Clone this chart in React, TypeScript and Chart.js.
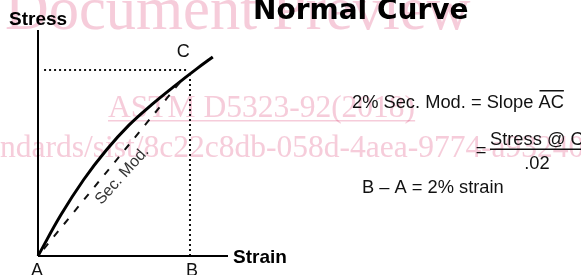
import React, { useEffect, useRef } from "react";
import { Chart, registerables } from "chart.js";
Chart.register(...registerables);

// ---- data ----
const strain = [0, 0.3, 0.6, 0.9, 1.2, 1.5, 1.8, 2.1, 2.3];
const stress = [0, 22, 41, 57, 70.5, 81.5, 91.5, 101, 107];
const secantStrain = [0, 1.9];
const secantStress = [0, 95];
const guideHStrain = [0.08, 1.97];
const guideHStress = [100, 100];
const guideVStrain = [2, 2];
const guideVStress = [0, 97];
const axisStrain = [0, 2.5];
const axisStress = [0, 121.5];
const pointC = [1.91, 100];
const pointB = [2, 0];
const pointA = [0, 0];

const titleText = "Normal Curve";
const yAxisLabel = "Stress";
const xAxisLabel = "Strain";
const formula1 = "2% Sec. Mod. = Slope ";
const formula1Bar = "AC";
const formulaNum = "Stress @ C";
const formulaDen = ".02";
const formula3 = "B \u2013 A = 2% strain";
const secLabel = "Sec. Mod.";
const wm1 = "Document Preview";
const wm2 = "ASTM D5323-92(2018)";
const wm3 = "ndards/sist/8c22c8db-058d-4aea-9774-a93240dc6a8b/astm-d5323-922018";

const pts = (xs: number[], ys: number[]) => xs.map((x, i) => ({ x, y: ys[i] }));

const SANS = '"Liberation Sans", Arial, sans-serif';
const BOLD = '"DejaVu Sans", sans-serif';
const SERIF = '"Liberation Serif", "Times New Roman", serif';

const textPlugin = {
  id: "texts",
  beforeDraw(chart: any) {
    const ctx = chart.ctx;
    ctx.save();
    ctx.fillStyle = "#fff";
    ctx.fillRect(0, 0, chart.width, chart.height);
    ctx.restore();
  },
  afterDraw(chart: any) {
    const ctx: CanvasRenderingContext2D = chart.ctx;
    const xs = chart.scales.x;
    const ys = chart.scales.y;
    ctx.save();
    ctx.fillStyle = "#000";
    ctx.strokeStyle = "#000";
    ctx.textBaseline = "alphabetic";

    // title
    ctx.textAlign = "left";
    ctx.font = `bold 28px ${BOLD}`;
    ctx.fillText(titleText, 253, 19);

    // axis labels
    ctx.font = `bold 19px ${SANS}`;
    ctx.fillText(yAxisLabel, 9, 25);
    ctx.fillText(xAxisLabel, 233, 263);

    // point labels
    ctx.font = `18px ${SANS}`;
    ctx.textAlign = "center";
    ctx.fillStyle = "#111";
    ctx.fillText("A", xs.getPixelForValue(pointA[0]) - 1, 276);
    ctx.fillText("B", xs.getPixelForValue(pointB[0]) + 2, 276);
    ctx.fillText("C", xs.getPixelForValue(pointC[0]), ys.getPixelForValue(pointC[1]) - 13);

    // rotated Sec. Mod.
    const mx = xs.getPixelForValue((secantStrain[0] + secantStrain[1]) / 2) + 12;
    const my = ys.getPixelForValue((secantStress[0] + secantStress[1]) / 2) + 8;
    ctx.save();
    ctx.translate(mx, my);
    ctx.rotate((-48 * Math.PI) / 180);
    ctx.font = `16px ${SANS}`;
    ctx.textAlign = "center";
    ctx.textBaseline = "middle";
    ctx.fillStyle = "#333";
    ctx.fillText(secLabel, 0, 0);
    ctx.restore();

    // formulas
    ctx.font = `18.3px ${SANS}`;
    ctx.textAlign = "left";
    ctx.fillStyle = "#111";
    const f1x = 352;
    ctx.fillText(formula1, f1x, 108);
    const w1 = ctx.measureText(formula1).width;
    ctx.fillText(formula1Bar, f1x + w1, 108);
    const wb = ctx.measureText(formula1Bar).width;
    ctx.fillRect(f1x + w1 + 1, 90, wb - 1, 1.5);

    ctx.fillText(formulaNum, 490, 145);
    ctx.fillRect(490, 148.5, 92, 1.5);
    ctx.textAlign = "center";
    ctx.fillText(formulaDen, 537, 169);
    ctx.fillText("=", 481, 156);
    ctx.textAlign = "left";
    ctx.fillText(formula3, 362, 193);

    // watermark
    ctx.globalCompositeOperation = "multiply";
    ctx.fillStyle = "rgb(246,204,218)";
    ctx.textAlign = "left";
    ctx.font = `60.5px ${SERIF}`;
    ctx.fillText(wm1, 5, 29);
    ctx.font = `31.5px ${SERIF}`;
    ctx.fillText(wm2, 108, 117);
    const ww = ctx.measureText(wm2).width;
    ctx.fillRect(108, 120, ww, 1.5);
    ctx.fillText(wm3, 0, 157);
    ctx.restore();
  },
};

export default function App() {
  const ref = useRef<HTMLCanvasElement | null>(null);
  useEffect(() => {
    if (!ref.current) return;
    const common = { pointRadius: 0, fill: false, showLine: true, clip: false as any };
    const chart = new Chart(ref.current, {
      type: "scatter",
      data: {
        datasets: [
          { ...common, data: pts([axisStrain[0], axisStrain[0]], axisStress), borderColor: "#000", borderWidth: 2 },
          { ...common, data: pts(axisStrain, [axisStress[0], axisStress[0]]), borderColor: "#000", borderWidth: 2 },
          { ...common, data: pts(guideHStrain, guideHStress), borderColor: "#111", borderWidth: 2, borderDash: [2, 3] },
          { ...common, data: pts(guideVStrain, guideVStress), borderColor: "#111", borderWidth: 2, borderDash: [2, 3] },
          { ...common, data: pts(secantStrain, secantStress), borderColor: "#111", borderWidth: 2, borderDash: [7, 9], borderDashOffset: 7 },
          { ...common, data: pts(strain, stress), borderColor: "#000", borderWidth: 3, tension: 0.4 },
        ] as any,
      },
      options: {
        animation: false,
        responsive: false,
        maintainAspectRatio: false,
        layout: { padding: { left: 38, right: 353, top: 30, bottom: 19 } },
        plugins: { legend: { display: false }, tooltip: { enabled: false } },
        scales: {
          x: { type: "linear", display: false, min: axisStrain[0], max: axisStrain[1] },
          y: { type: "linear", display: false, min: axisStress[0], max: axisStress[1] },
        },
      },
      plugins: [textPlugin],
    });
    return () => chart.destroy();
  }, []);
  return (
    <div style={{ position: "fixed", left: 0, top: 0, width: 581, height: 275, background: "#fff" }}>
      <canvas ref={ref} width={581} height={275} style={{ display: "block" }} />
    </div>
  );
}
